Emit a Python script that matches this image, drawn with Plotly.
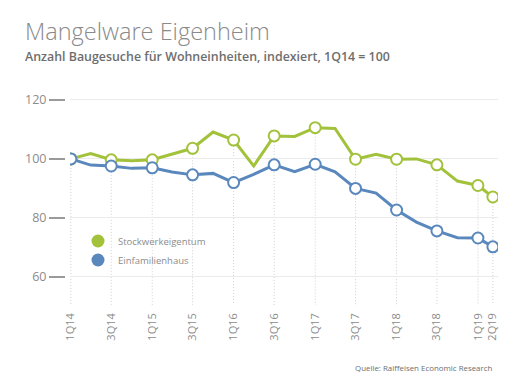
import plotly.graph_objects as go

# Data
quarters = ["1Q14","2Q14","3Q14","4Q14","1Q15","2Q15","3Q15","4Q15",
            "1Q16","2Q16","3Q16","4Q16","1Q17","2Q17","3Q17","4Q17",
            "1Q18","2Q18","3Q18","4Q18","1Q19","2Q19"]
dates = ["2014-02-15","2014-05-15","2014-08-15","2014-11-15",
         "2015-02-15","2015-05-15","2015-08-15","2015-11-15",
         "2016-02-15","2016-05-15","2016-08-15","2016-11-15",
         "2017-02-15","2017-05-15","2017-08-15","2017-11-15",
         "2018-02-15","2018-05-15","2018-08-15","2018-11-15",
         "2019-02-15","2019-04-23"]
stockwerk = [100.0, 101.8, 99.7, 99.4, 99.7, 101.5, 103.6, 109.1,
             106.4, 97.6, 107.8, 107.6, 110.6, 110.3, 99.9, 101.6,
             99.9, 100.0, 98.0, 92.5, 91.0, 87.1]
einfam = [100.0, 97.9, 97.6, 96.8, 97.0, 95.6, 94.6, 95.1,
          92.0, 94.8, 98.0, 95.7, 98.2, 95.6, 90.0, 88.4,
          82.7, 78.6, 75.6, 73.3, 73.2, 70.2]
labeled = ["1Q14","3Q14","1Q15","3Q15","1Q16","3Q16","1Q17","3Q17",
           "1Q18","3Q18","1Q19","2Q19"]
yticks = [60, 80, 100, 120]

GREEN = "#a3c23c"
BLUE = "#5a88bd"
GREY = "#8c8c8c"
FONT = "Open Sans"

idx = [quarters.index(q) for q in labeled]
lx = [dates[i] for i in idx]
YMIN, YMAX = 50.5, 122

fig = go.Figure()

# vertical dotted guide lines
for i in idx:
    fig.add_shape(type="line", xref="x", yref="y",
                  x0=dates[i], x1=dates[i],
                  y0=max(stockwerk[i], einfam[i]), y1=YMIN,
                  line=dict(color="#cfcfcf", width=1, dash="1px,2px"),
                  layer="below")

for name, vals, col in [("Stockwerkeigentum", stockwerk, GREEN),
                        ("Einfamilienhaus", einfam, BLUE)]:
    fig.add_trace(go.Scatter(x=dates, y=vals, mode="lines",
                             line=dict(color=col, width=3),
                             showlegend=False, hoverinfo="skip"))
    fig.add_trace(go.Scatter(x=lx, y=[vals[i] for i in idx], mode="markers",
                             marker=dict(size=11, color="white",
                                         line=dict(color=col, width=2)),
                             showlegend=False))

for name, col in [("Stockwerkeigentum", GREEN), ("Einfamilienhaus", BLUE)]:
    fig.add_trace(go.Scatter(x=[None], y=[None], mode="markers", name=name,
                             marker=dict(size=13, color=col)))

# invisible trace to anchor the tick axis
fig.add_trace(go.Scatter(x=[None], y=[None], yaxis="y2", showlegend=False,
                         hoverinfo="skip"))

fig.update_layout(
    width=512, height=376,
    margin=dict(l=57, r=22, t=86, b=79),
    paper_bgcolor="white", plot_bgcolor="white",
    font=dict(family=FONT, color=GREY),
    showlegend=True,
    legend=dict(x=0.030, y=0.372, xanchor="left", yanchor="top",
                font=dict(size=9.5, color=GREY), bgcolor="rgba(0,0,0,0)",
                tracegroupgap=0, itemwidth=30),
    xaxis=dict(domain=[0.0115, 1], range=["2014-02-11", "2019-05-16"],
               tickmode="array", tickvals=lx, ticktext=labeled, tickangle=-90,
               showgrid=False, zeroline=False, showline=False,
               ticklabelstandoff=5,
               tickfont=dict(size=11, color=GREY), ticks=""),
    yaxis=dict(range=[YMIN, YMAX], tickvals=yticks, showgrid=True,
               gridcolor="#ebebeb", gridwidth=1, zeroline=False,
               showticklabels=False, ticks="", showline=False),
    yaxis2=dict(range=[YMIN, YMAX], tickvals=yticks, overlaying="y",
                anchor="free", position=0, showgrid=False, zeroline=False,
                ticks="outside", ticklen=16, tickwidth=2, tickcolor="#9a9a9a",
                tickfont=dict(size=12.5, color=GREY), showline=False),
    annotations=[
        dict(text="Mangelware Eigenheim", xref="paper", yref="paper",
             x=-0.097, y=1.300, xanchor="left", yanchor="middle",
             showarrow=False, font=dict(size=23.5, color="#8a8a8a", family=FONT, weight=300)),
        dict(text="Anzahl Baugesuche für Wohneinheiten, indexiert, 1Q14 = 100",
             xref="paper", yref="paper", x=-0.097, y=1.178,
             xanchor="left", yanchor="middle", showarrow=False,
             font=dict(size=12.4, color="#6e6e6e", family=FONT, weight=600)),
        dict(text="Quelle: Raiffeisen Economic Research", xref="paper", yref="paper",
             x=0.993, y=-0.2986, xanchor="right", yanchor="middle", showarrow=False,
             font=dict(size=7.9, color="#6e6e6e", family=FONT)),
    ],
)

fig.write_html("out.html")
